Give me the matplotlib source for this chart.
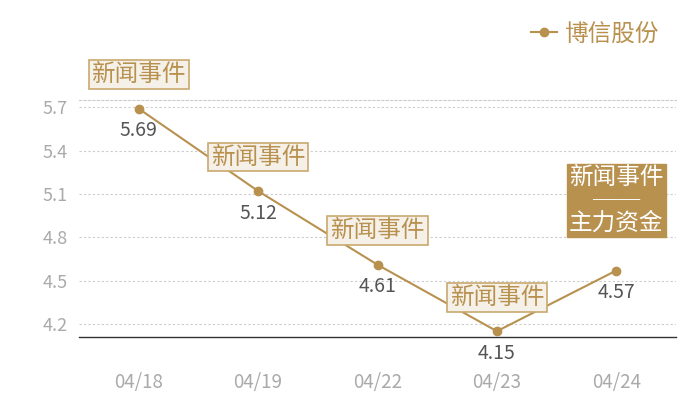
import matplotlib
matplotlib.use("Agg")
import matplotlib.pyplot as plt

plt.rcParams['font.family'] = ['Noto Sans CJK SC', 'DejaVu Sans']

dates = ["04/18", "04/19", "04/22", "04/23", "04/24"]
prices = [5.69, 5.12, 4.61, 4.15, 4.57]
events = ["新闻事件", "新闻事件", "新闻事件", "新闻事件", "新闻事件\n──\n主力资金"]
yticks = [4.2, 4.5, 4.8, 5.1, 5.4, 5.7]
series_name = "博信股份"

gold = "#b8914f"

fig = plt.figure(figsize=(7, 4), dpi=100)
ax = fig.add_axes([79 / 700, 1 - 337 / 400, 597 / 700, 237 / 400])

x = list(range(len(dates)))
ax.plot(x, prices, color=gold, linewidth=1.5, marker="o", markersize=6,
        label=series_name, zorder=3)

ax.set_xlim(-0.5, len(dates) - 0.5)
ax.set_ylim(4.11, 5.75)
ax.set_yticks(yticks)
ax.set_yticklabels([f"{v:.1f}" for v in yticks])
ax.set_xticks(x)
ax.set_xticklabels(dates)

for v in yticks:
    ax.axhline(v, color="#cccccc", linewidth=0.8, linestyle=(0, (2, 2)), zorder=0)

for s in ["left", "right"]:
    ax.spines[s].set_visible(False)
ax.spines["top"].set_color("#cccccc")
ax.spines["top"].set_linewidth(0.8)
ax.spines["top"].set_linestyle((0, (2, 2)))
ax.spines["bottom"].set_color("#333333")
ax.spines["bottom"].set_linewidth(1.0)

ax.tick_params(axis="y", length=0, colors="#aaaaaa", labelsize=13, pad=8)
ax.tick_params(axis="x", length=0, colors="#aaaaaa", labelsize=13.5, pad=25)

# value labels under the points
for xi, p in zip(x, prices):
    ax.annotate(f"{p:.2f}", (xi, p), xytext=(0, -22), textcoords="offset pixels",
                ha="center", va="center", fontsize=14, color="#555555", zorder=4)

# event boxes
for xi, p, ev in zip(x, prices, events):
    if "\n" in ev:
        ax.annotate(ev, (xi, p), xytext=(0, 70), textcoords="offset pixels",
                    ha="center", va="center", fontsize=17, color="white",
                    linespacing=0.98, zorder=5,
                    bbox=dict(boxstyle="square,pad=0.1", fc=gold, ec=gold))
    else:
        ax.annotate(ev, (xi, p), xytext=(0, 34), textcoords="offset pixels",
                    ha="center", va="center", fontsize=17, color=gold, zorder=5,
                    bbox=dict(boxstyle="square,pad=0.12", fc="#f5f0e8", ec="#c9a96e",
                              lw=1.2))

leg = ax.legend(loc="upper right", bbox_to_anchor=(680 / 700, 1 - 1 / 400),
                bbox_transform=fig.transFigure, frameon=False, fontsize=17,
                labelcolor=gold, handlelength=1.1, handletextpad=0.3)

fig.savefig("out.png", dpi=100)
